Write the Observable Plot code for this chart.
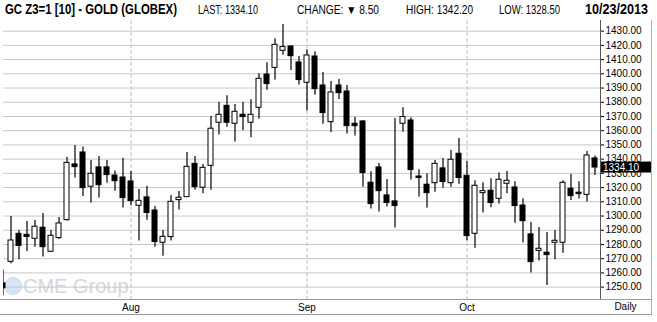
<!DOCTYPE html>
<html><head><meta charset="utf-8">
<script src="https://cdn.jsdelivr.net/npm/d3@7"></script>
<script src="https://cdn.jsdelivr.net/npm/@observablehq/plot@0.6"></script>
<style>
body{margin:0;background:#fff;}
#wrap{position:relative;width:657px;height:322px;overflow:hidden;background:#fff;}
#hdr{position:absolute;left:0;top:0;width:657px;height:20px;font-family:"Liberation Sans",Arial,sans-serif;color:#000;}
#hdr span{position:absolute;white-space:nowrap;font-size:12px;top:3px;line-height:normal;transform-origin:0 50%;}
#hdr .b{font-weight:bold;font-size:14px;top:1px;}
#wm{position:absolute;left:23px;top:276px;font:20px/20px "Liberation Sans",Arial,sans-serif;color:#d3d5e0;white-space:nowrap;}
#globe{position:absolute;left:4px;top:277px;width:16px;height:16px;border-radius:50%;background:#d6e4f4;border:1px solid #c9d9ee;}
#chart{position:absolute;left:0;top:20px;}
</style></head><body>
<div id="wrap"><div id="hdr"></div><div id="globe"></div><div id="wm"></div><div id="chart"></div></div>
<script>
const symbol = "GC Z3=1 [10] - GOLD (GLOBEX)";
const asOf = "10/23/2013";
const dates = [
 "2013-07-10","2013-07-11","2013-07-12","2013-07-15","2013-07-16","2013-07-17","2013-07-18","2013-07-19","2013-07-22","2013-07-23","2013-07-24","2013-07-25","2013-07-26","2013-07-29","2013-07-30","2013-07-31",
 "2013-08-01","2013-08-02","2013-08-05","2013-08-06","2013-08-07","2013-08-08","2013-08-09","2013-08-12","2013-08-13","2013-08-14","2013-08-15","2013-08-16","2013-08-19","2013-08-20","2013-08-21","2013-08-22","2013-08-23","2013-08-26","2013-08-27","2013-08-28","2013-08-29","2013-08-30",
 "2013-09-03","2013-09-04","2013-09-05","2013-09-06","2013-09-09","2013-09-10","2013-09-11","2013-09-12","2013-09-13","2013-09-16","2013-09-17","2013-09-18","2013-09-19","2013-09-20","2013-09-23","2013-09-24","2013-09-25","2013-09-26","2013-09-27","2013-09-30",
 "2013-10-01","2013-10-02","2013-10-03","2013-10-04","2013-10-07","2013-10-08","2013-10-09","2013-10-10","2013-10-11","2013-10-14","2013-10-15","2013-10-16","2013-10-17","2013-10-18","2013-10-21","2013-10-22","2013-10-23"];
const open = [
 1252.6,1267.8,1287.5,1286.8,1284.0,1291.8,1274.9,1284.5,1297.1,1336.3,1344.7,1320.6,1334.2,1334.2,1328.5,1327.1,
 1324.3,1307.2,1313.1,1303.9,1281.2,1285.2,1311.2,1313.3,1336.7,1319.9,1335.3,1365.6,1377.5,1364.9,1371.2,1365.6,1376.1,1399.5,1404.2,1416.2,1419.2,1408.0,
 1393.7,1412.2,1391.8,1366.0,1391.8,1387.6,1364.9,1366.5,1323.4,1334.2,1314.5,1310.3,1364.9,1367.2,1327.8,1322.0,1323.1,1333.5,1323.1,1343.8,
 1328.3,1287.5,1316.1,1317.8,1312.1,1322.7,1320.1,1307.4,1287.1,1275.5,1274.2,1281.2,1281.2,1319.2,1316.4,1314.9,1340.5];
const high = [
 1262.0,1299.7,1289.9,1296.2,1296.9,1301.8,1289.9,1299.0,1341.4,1349.6,1348.5,1339.1,1341.9,1339.1,1331.6,1340.7,
 1331.4,1318.7,1321.0,1306.7,1289.9,1314.5,1317.3,1344.7,1341.9,1336.3,1370.0,1379.9,1384.6,1378.5,1379.9,1381.7,1400.0,1407.8,1424.6,1434.7,1419.5,1412.2,
 1416.9,1415.5,1401.0,1394.6,1396.0,1391.8,1369.3,1367.2,1331.1,1337.0,1325.7,1368.6,1376.1,1369.1,1332.5,1329.7,1339.1,1340.5,1346.1,1354.5,
 1338.4,1324.8,1323.4,1326.2,1330.2,1331.4,1324.1,1312.1,1295.5,1292.0,1288.5,1289.9,1324.8,1329.2,1324.1,1345.4,1342.2];
const low = [
 1244.0,1266.4,1269.2,1275.1,1278.1,1271.1,1274.4,1283.5,1296.5,1326.7,1313.8,1309.1,1312.6,1323.1,1317.5,1305.6,
 1307.2,1282.4,1297.1,1278.1,1271.8,1282.4,1304.2,1313.3,1318.2,1315.6,1318.2,1356.9,1362.5,1352.0,1359.9,1355.0,1368.1,1388.5,1395.6,1413.1,1402.4,1392.1,
 1373.8,1385.0,1364.6,1358.8,1382.0,1357.6,1356.2,1320.3,1304.9,1302.8,1306.3,1291.5,1359.0,1325.3,1313.3,1305.6,1316.8,1319.6,1320.3,1322.4,
 1282.4,1277.4,1302.1,1305.8,1308.4,1315.6,1295.0,1281.0,1259.9,1268.3,1251.2,1269.2,1273.9,1310.9,1311.9,1309.8,1328.5];
const close = [
 1249.2,1282.8,1278.9,1285.2,1292.5,1278.1,1286.1,1294.8,1337.4,1334.4,1319.6,1329.7,1321.7,1328.8,1324.5,1312.6,
 1310.5,1310.7,1302.1,1281.7,1285.4,1310.0,1312.9,1334.6,1320.3,1333.9,1361.4,1371.2,1365.6,1373.3,1369.6,1371.2,1396.5,1392.8,1420.4,1418.8,1412.4,1395.6,
 1412.9,1389.2,1372.4,1386.9,1386.4,1363.2,1363.2,1330.2,1308.4,1317.5,1309.1,1307.0,1369.6,1332.3,1326.7,1316.1,1336.7,1323.9,1339.6,1326.7,
 1285.9,1321.3,1317.5,1309.1,1325.5,1324.8,1307.0,1296.4,1267.6,1277.0,1272.5,1282.6,1323.4,1314.0,1315.4,1342.6,1334.1];
const monthStarts = ["2013-08-01","2013-09-03","2013-10-01"];
const monthLabels = ["Aug","Sep","Oct"];
const yTicks = d3.range(1250, 1431, 10);
const periodLabel = "Daily";
const watermarkText = "CME Group";

const n = dates.length;
const data = dates.map((d, i) => ({i, date: d, open: open[i], high: high[i], low: low[i], close: close[i]}));
const tickIdx = monthStarts.map(t => dates.indexOf(t));
const fmt = d3.format(".2f");
const last = close[n - 1], prev = close[n - 2];

document.getElementById("wm").textContent = watermarkText;

// header: each item squeezed horizontally to the narrow width seen in the reference
const hdr = document.getElementById("hdr");
[
  {t: symbol, l: 5, w: 172, c: "b"},
  {t: "LAST: " + fmt(last), l: 198, w: 60},
  {t: "CHANGE: " + (last < prev ? "\u25BC " : "\u25B2 ") + fmt(Math.abs(last - prev)), l: 297, w: 82},
  {t: "HIGH: " + fmt(high[n - 1]), l: 406, w: 67},
  {t: "LOW: " + fmt(low[n - 1]), l: 499, w: 61},
  {t: asOf, l: 585, w: 63, c: "b"}
].forEach(h => {
  const s = document.createElement("span");
  s.textContent = h.t;
  if (h.c) s.className = h.c;
  s.style.left = h.l + "px";
  hdr.appendChild(s);
  const w = s.getBoundingClientRect().width;
  if (w > 0) s.style.transform = `scaleX(${h.w / w})`;
});

const font = "Liberation Sans, Arial, sans-serif";

const frame = (index, scales, values, dim) => {
  const g = d3.create("svg:g");
  const xr = dim.width - dim.marginRight, by = dim.height - dim.marginBottom;
  g.append("line").attr("x1", 0).attr("x2", 651).attr("y1", by + 0.5).attr("y2", by + 0.5).attr("stroke", "#9a9a9a");
  g.append("line").attr("x1", 0).attr("x2", 651).attr("y1", by + 15.5).attr("y2", by + 15.5).attr("stroke", "#9a9a9a");
  g.append("line").attr("x1", xr + 0.5).attr("x2", xr + 0.5).attr("y1", 0).attr("y2", by).attr("stroke", "#555");
  g.append("line").attr("x1", 651.5).attr("x2", 651.5).attr("y1", 0).attr("y2", by + 16).attr("stroke", "#b0b0b0");
  g.append("text").attr("x", (xr + 651) / 2).attr("y", by + 4).attr("dy", "0.71em").attr("text-anchor", "middle")
    .style("font-family", font).style("font-size", "10px").style("fill", "#000").text(periodLabel);
  return g.node();
};

const priceBox = (index, scales, values, dim) => {
  const g = d3.create("svg:g");
  const xr = dim.width - dim.marginRight;
  const y = scales.y(last);
  g.append("rect").attr("x", xr + 1).attr("y", y - 5.5).attr("width", 50).attr("height", 11).attr("fill", "#000");
  g.append("text").attr("x", xr + 3).attr("y", y).attr("dy", "0.36em").attr("text-anchor", "start")
    .style("font-family", font).style("font-size", "10px").style("fill", "#fff").text(fmt(last));
  return g.node();
};

const chart = Plot.plot({
  width: 657, height: 302,
  marginLeft: 3, marginRight: 57, marginTop: 0, marginBottom: 23,
  style: {background: "transparent", fontFamily: font, fontSize: "10px", color: "#000", overflow: "visible"},
  x: {type: "linear", domain: [0.0625, 74.6875], axis: null},
  y: {domain: [1241.3, 1437.5], axis: null},
  color: {type: "identity"},
  marks: [
    Plot.gridY(yTicks, {stroke: "#c6c8c6", strokeOpacity: 1}),
    Plot.ruleX(tickIdx, {stroke: "#bdbdbd", strokeOpacity: 1, strokeDasharray: "4,2"}),
    Plot.ruleX(data, {x: "i", y1: "low", y2: "high", stroke: "#000", strokeWidth: 1.2, clip: true}),
    Plot.rect(data, {x1: d => d.i - 0.3125, x2: d => d.i + 0.3125, y1: "open", y2: "close",
      fill: d => d.close >= d.open ? "#fff" : "#000", stroke: "#000", strokeWidth: 1, clip: true}),
    Plot.axisY(yTicks, {anchor: "right", tickFormat: fmt, tickSize: 3, tickPadding: 2, label: null, fontSize: 10}),
    Plot.axisX(tickIdx, {anchor: "bottom", tickSize: 0, tickPadding: 4, label: null, fontSize: 10,
      tickFormat: d => monthLabels[tickIdx.indexOf(d)]}),
    frame,
    priceBox
  ]
});
document.getElementById("chart").appendChild(chart);
</script>
</body></html>
